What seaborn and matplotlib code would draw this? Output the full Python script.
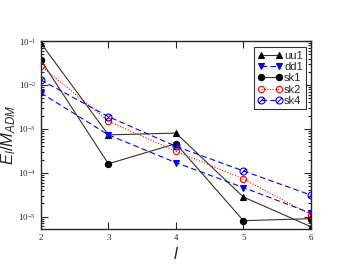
import numpy as np
import pandas as pd
import seaborn as sns
import matplotlib.pyplot as plt
from matplotlib.path import Path
from matplotlib.ticker import LogLocator, NullFormatter

# multipole index l and energy fractions
ells = [2, 3, 4, 5, 6]
uu1 = [9.0e-2, 7.3e-4, 8.0e-4, 2.8e-5, 5.9e-6]
dd1 = [6.6e-3, 7.3e-4, 1.7e-4, 4.6e-5, 1.2e-5]
sk1 = [3.7e-2, 1.6e-4, 4.6e-4, 8.1e-6, 9.0e-6]
sk2 = [2.7e-2, 1.5e-3, 3.1e-4, 7.2e-5, 1.1e-5]
sk4 = [1.3e-2, 1.9e-3, 4.0e-4, 1.1e-4, 3.1e-5]

sns.set_style('ticks')
plt.rcParams['mathtext.fontset'] = 'custom'
plt.rcParams['mathtext.it'] = 'Liberation Sans:italic'
plt.rcParams['mathtext.rm'] = 'Liberation Sans'

# circle with a diagonal stroke for sk4
hatched = Path.make_compound_path(
    Path.unit_circle(),
    Path([[-0.7, -0.7], [0.7, 0.7]]),
)

fig = plt.figure(figsize=(3.49, 2.70), dpi=100)
ax = fig.add_axes([0.117, 0.152, 0.774, 0.696])

styles = [
    ('uu1', uu1, 'black', '-', '^', 'black', 4.5),
    ('dd1', dd1, 'blue', (0, (5, 3)), 'v', 'blue', 4.5),
    ('sk1', sk1, 'black', '-', 'o', 'black', 4.5),
    ('sk2', sk2, 'red', (0, (1, 1.5)), 'o', 'none', 4.5),
    ('sk4', sk4, 'blue', (0, (5, 3)), hatched, 'none', 5.0),
]
for name, vals, col, ls, mk, fc, ms in styles:
    df = pd.DataFrame({'l': ells, 'E': vals})
    lc = '#333333' if col == 'black' else col
    sns.lineplot(data=df, x='l', y='E', ax=ax, color=lc, linestyle=ls,
                 linewidth=0.8, marker=mk, markersize=ms,
                 markeredgecolor=col, markeredgewidth=0.8, label=name)
    ax.lines[-1].set_markerfacecolor(fc)

ax.set_yscale('log')
ax.set_xlim(2, 6)
ax.set_ylim(10**-5.28, 1e-1)
ax.set_xticks(ells)
ax.yaxis.set_major_locator(LogLocator(base=10, numticks=10))
ax.yaxis.set_minor_locator(LogLocator(base=10, subs=np.arange(2, 10), numticks=20))
ax.yaxis.set_minor_formatter(NullFormatter())
ax.tick_params(which='both', direction='in', top=True, right=True, width=0.8)
ax.tick_params(which='major', length=5)
ax.tick_params(which='minor', length=2.5)
for lab in ax.get_xticklabels() + ax.get_yticklabels():
    lab.set_family('Liberation Serif')
    lab.set_fontsize(6.5)
for sp in ax.spines.values():
    sp.set_linewidth(1.0)

ax.set_xlabel('$l$', fontsize=12, labelpad=2)
ax.set_ylabel('$E_l/M_{ADM}$', fontsize=12, labelpad=0)

leg = ax.legend(loc='upper right', bbox_to_anchor=(0.995, 0.985), numpoints=2,
                frameon=True, fancybox=False, edgecolor='black',
                handlelength=2.2, handletextpad=0.2, labelspacing=0.12,
                borderpad=0.3, borderaxespad=0.3,
                prop={'family': 'Liberation Sans', 'size': 8})
leg.get_frame().set_linewidth(0.8)

fig.savefig('out.png', dpi=100)
